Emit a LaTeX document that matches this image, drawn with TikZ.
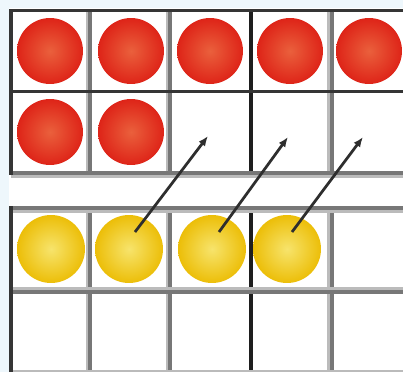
\documentclass[tikz,border=0pt]{standalone}
\usetikzlibrary{arrows.meta, positioning}
\definecolor{PaleBlue}{HTML}{EEF7FC}
\definecolor{EdgeDark}{HTML}{353535}
\definecolor{GridGray}{HTML}{777777}
\definecolor{GridLight}{HTML}{BBBBBB}
\definecolor{GridBlack}{HTML}{1E1E1E}
\definecolor{RedOuter}{HTML}{DE2418}
\definecolor{RedInner}{HTML}{EA603C}
\definecolor{YellowOuter}{HTML}{ECBE08}
\definecolor{YellowInner}{HTML}{F7E46C}
\definecolor{ArrowDark}{HTML}{2E2E2E}

\begin{document}
\begin{tikzpicture}[x=0.02cm, y=-0.02cm,
    frameedge/.style={draw=EdgeDark, line width=0.08cm},
    gridgray/.style={draw=GridGray, line width=0.08cm},
    gridlight/.style={draw=GridLight, line width=0.06cm},
    gridblack/.style={draw=GridBlack, line width=0.07cm},
    redcounter/.style={circle, minimum size=1.32cm, inner sep=0pt, inner color=RedInner, outer color=RedOuter},
    yellowcounter/.style={circle, minimum size=1.36cm, inner sep=0pt, inner color=YellowInner, outer color=YellowOuter},
    movearrow/.style={-{Latex[length=2mm, width=1.6mm]}, draw=ArrowDark, line width=0.055cm}]
    \useasboundingbox (0,0) rectangle (403,372);
    \clip (0,0) rectangle (403,372);
    \fill[PaleBlue] (0,0) rectangle (403,372);
    \fill[white] (9,8) rectangle (403,372);

    % Top frame
    \foreach \x in {87,167,328} \draw[gridlight] (\x,12) -- (\x,175);
    \foreach \x in {90,170,332} \draw[gridgray] (\x,12) -- (\x,175);
    \draw[gridblack] (251,12) -- (251,175);
    \draw[gridlight] (11,176.5) -- (410,176.5);
    \draw[gridgray] (11,173) -- (410,173);
    \draw[frameedge] (9,10.5) -- (410,10.5);
    \draw[frameedge] (11,91.5) -- (410,91.5);
    \draw[frameedge] (11,9) -- (11,175);

    % Bottom frame
    \foreach \x in {87,167,328} \draw[gridlight] (\x,206) -- (\x,372);
    \foreach \x in {90,170,332} \draw[gridgray] (\x,206) -- (\x,372);
    \draw[gridblack] (251,210) -- (251,372);
    \draw[gridlight] (11,211.5) -- (410,211.5);
    \draw[gridgray] (9,208) -- (410,208);
    \draw[gridlight] (11,288.5) -- (410,288.5);
    \draw[gridgray] (11,292) -- (410,292);
    \draw[gridlight] (11,371) -- (410,371);
    \draw[frameedge] (11,206) -- (11,372);

    % Counters
    \node[redcounter] (red1) at (50,51) {};
    \node[redcounter] (red2) at (131,51) {};
    \node[redcounter] (red3) at (210,51) {};
    \node[redcounter] (red4) at (290,51) {};
    \node[redcounter] (red5) at (369,51) {};
    \node[redcounter] (red6) at (50,132) {};
    \node[redcounter] (red7) at (131,132) {};
    \node[yellowcounter] (yel1) at (51,249) {};
    \node[yellowcounter] (yel2) at (129,249) {};
    \node[yellowcounter] (yel3) at (212,249) {};
    \node[yellowcounter] (yel4) at (287,249) {};

    % Arrows
    \coordinate (src1) at (135,232);
    \coordinate (src2) at (219,232);
    \coordinate (src3) at (292,232);
    \coordinate (tgt1) at (208,136);
    \coordinate (tgt2) at (288,137);
    \coordinate (tgt3) at (363,137);
    \draw[movearrow] (src1) -- (tgt1);
    \draw[movearrow] (src2) -- (tgt2);
    \draw[movearrow] (src3) -- (tgt3);
\end{tikzpicture}
\end{document}
